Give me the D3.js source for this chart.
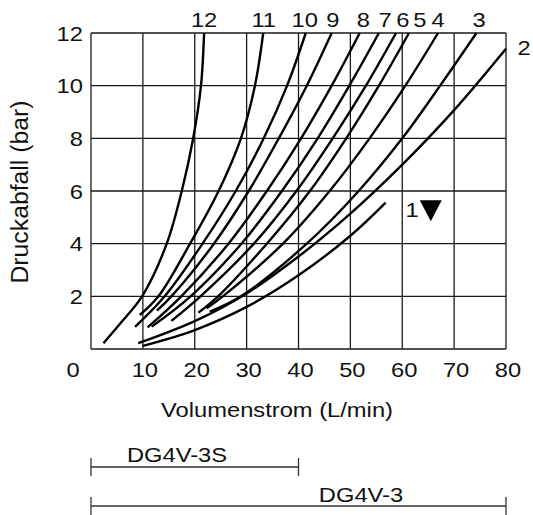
<!DOCTYPE html>
<html>
<head>
<meta charset="utf-8">
<script src="https://cdn.jsdelivr.net/npm/d3@7"></script>
<style>
  body { margin: 0; background: #fff; }
  text { font-family: Arial, "Liberation Sans", sans-serif; fill: #111; }
</style>
</head>
<body>
<svg id="chart" width="533" height="515"></svg>
<script>
// flow (L/min), pressure drop (bar) pairs
const curve12 = [[2.4, 0.22], [6, 1.05], [10, 2.05], [14.6, 4], [17.5, 6], [19.7, 8], [21.2, 10], [21.8, 12]];
const curve11 = [[9.4, 1.29], [13, 2], [19.1, 4], [24.6, 6], [28.9, 8], [31.6, 10], [33.2, 12]];
const curve10 = [[8.5, 0.84], [14.2, 2], [21.5, 4], [27.9, 6], [33.3, 8], [37.8, 10], [41.4, 12]];
const curve9 = [[12.7, 1.46], [15.5, 2], [23.7, 4], [30.4, 6], [36.2, 8], [41.6, 10], [46.4, 12]];
const curve8 = [[10.9, 0.82], [17.4, 2], [26.5, 4], [33.9, 6], [40.5, 8], [46.4, 10], [51.8, 12]];
const curve7 = [[11.7, 0.85], [19.2, 2], [29, 4], [36.8, 6], [43.7, 8], [49.8, 10], [55.5, 12]];
const curve6 = [[15.5, 1.07], [21.1, 2], [31.4, 4], [39.6, 6], [46.6, 8], [53, 10], [58.8, 12]];
const curve5 = [[20.7, 1.38], [24.5, 2], [33.9, 4], [42.2, 6], [49.2, 8], [55.5, 10], [61.3, 12]];
const curve4 = [[22.3, 1.55], [25.4, 2], [37, 4], [46, 6], [53.7, 8], [60.6, 10], [66.9, 12]];
const curve3 = [[22.9, 1.42], [28.9, 2], [41.6, 4], [51.6, 6], [60, 8], [67.3, 10], [74.3, 12]];
const curve2 = [[9.1, 0.22], [20, 1.06], [30, 2.11], [40, 3.51], [50, 5.14], [60, 7.0], [70, 9.07], [80, 11.4]];
const curve1 = [[10, 0.12], [20, 0.72], [30, 1.6], [40, 2.8], [50, 4.3], [56.8, 5.56]];

const curves = [curve1, curve2, curve3, curve4, curve5, curve6, curve7, curve8, curve9, curve10, curve11, curve12];

const xTicks = [0, 10, 20, 30, 40, 50, 60, 70, 80];
const yTicks = [2, 4, 6, 8, 10, 12];

// curve numbers along the top edge, and where they sit on the flow axis
const topLabels = ['12', '11', '10', '9', '8', '7', '6', '5', '4', '3'];
const topLabelFlow = [21.8, 33.3, 41.2, 46.6, 52.5, 56.7, 60.1, 63.4, 66.9, 74.8];

// valve ranges under the chart
const ranges = [
  { name: 'DG4V-3S', from: 0, to: 40 },
  { name: 'DG4V-3', from: 0, to: 80 },
];

const svg = d3.select('#chart');
const plotLeft = 91, plotRight = 506, plotTop = 33, plotBottom = 349;
const sx = 1.13; // the source text is a little wider than Arial

const x = d3.scaleLinear().domain([0, 80]).range([plotLeft, plotRight]);
const y = d3.scaleLinear().domain([0, 12]).range([plotBottom, plotTop]);

function label(g, px, py, str, anchor, size) {
  return g.append('text')
    .attr('transform', `translate(${px},${py}) scale(${sx},1)`)
    .attr('text-anchor', anchor || 'middle')
    .style('font-size', (size || 21) + 'px')
    .text(str);
}

// grid
const grid = svg.append('g').attr('stroke', '#1a1a1a').attr('stroke-width', 1.3);
grid.selectAll('line.v')
  .data(xTicks)
  .enter()
  .append('line')
  .attr('x1', d => x(d)).attr('x2', d => x(d))
  .attr('y1', plotTop).attr('y2', plotBottom);
grid.selectAll('line.h')
  .data([0].concat(yTicks))
  .enter()
  .append('line')
  .attr('x1', plotLeft).attr('x2', plotRight)
  .attr('y1', d => y(d)).attr('y2', d => y(d));

// curves
const line = d3.line()
  .x(d => x(d[0]))
  .y(d => y(d[1]))
  .curve(d3.curveCatmullRom.alpha(0.5));

svg.append('g')
  .selectAll('path')
  .data(curves)
  .enter()
  .append('path')
  .attr('d', line)
  .attr('fill', 'none')
  .attr('stroke', '#000')
  .attr('stroke-width', 2.4);

// tick labels
const labels = svg.append('g');
xTicks.forEach(t => {
  label(labels, t === 0 ? x(t) - 18 : x(t) + 2, 377, String(t));
});
yTicks.forEach(t => {
  label(labels, 83, y(t) + 7.5, String(t), 'end');
});

label(labels, 277, 417, 'Volumenstrom (L/min)');
labels.append('text')
  .attr('transform', `translate(28,192) rotate(-90) scale(1.18,${sx})`)
  .attr('text-anchor', 'middle')
  .style('font-size', '21px')
  .text('Druckabfall (bar)');

// curve numbers
topLabels.forEach((t, i) => {
  label(labels, x(topLabelFlow[i]), 27, t);
});
label(labels, 524, 55, '2');

// curve 1 marker
label(labels, 412, 217, '1');
const tri = d3.path();
const tx = x(65.5), ty = y(5.65);
tri.moveTo(tx - 11, ty);
tri.lineTo(tx + 11, ty);
tri.lineTo(tx, ty + 21);
tri.closePath();
svg.append('path').attr('d', tri.toString()).attr('fill', '#000');

// valve ranges
const rangeY = [467, 506];
const rg = svg.append('g').attr('stroke', '#333').attr('stroke-width', 1.3);
ranges.forEach((r, i) => {
  const ry = rangeY[i];
  rg.append('line').attr('x1', x(r.from)).attr('x2', x(r.to)).attr('y1', ry).attr('y2', ry);
  rg.append('line').attr('x1', x(r.from)).attr('x2', x(r.from)).attr('y1', ry - 9).attr('y2', ry + 9);
  rg.append('line').attr('x1', x(r.to)).attr('x2', x(r.to)).attr('y1', ry - 9).attr('y2', ry + 9);
});
label(labels, 177, 462, ranges[0].name);
label(labels, 361, 502, ranges[1].name);
</script>
</body>
</html>
